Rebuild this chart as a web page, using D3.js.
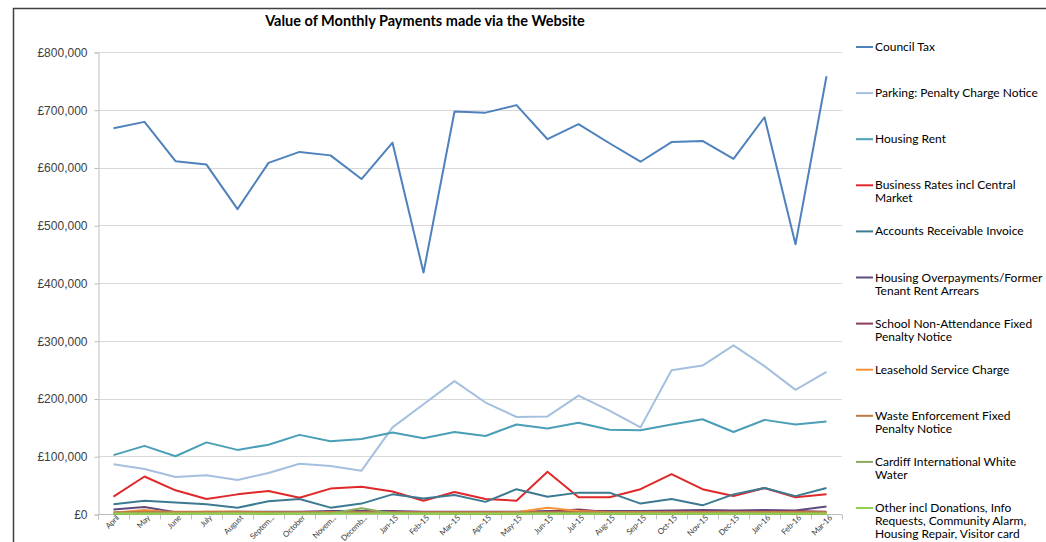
<!DOCTYPE html>
<html>
<head>
<meta charset="utf-8">
<script src="https://cdn.jsdelivr.net/npm/d3@7"></script>
<style>
  body { margin: 0; background: #fff; }
  svg { font-family: Lato, "Open Sans", sans-serif; }
</style>
</head>
<body>
<script>
//=== Data (values in £ thousands) ===
const months = ["April","May","June","July","August","Septem...","October","Novem...","Decemb...","Jan-15","Feb-15","Mar-15","Apr-15","May-15","Jun-15","Jul-15","Aug-15","Sep-15","Oct-15","Nov-15","Dec-15","Jan-16","Feb-16","Mar-16"]

const councilTax = [668,679,611,605,528,608,627,621,580,643,418,697,695,708,649,675,642,610,644,646,615,687,467,758]
const parking = [86,78,64,67,59,71,87,83,75,150,190,230,193,168,169,205,179,150,249,257,292,256,215,246]
const housingRent = [102,118,100,124,111,120,137,126,130,141,131,142,135,155,148,158,146,145,155,164,142,163,155,160]
const businessRates = [30,65,41,26,34,40,28,44,47,39,23,38,26,23,73,29,29,43,69,43,31,45,29,34]
const accountsReceivable = [17,23,20,17,11,22,26,11,18,34,27,33,21,43,30,37,37,18,26,15,34,45,31,45]
const overpayments = [8,12,3,3,4,4,4,5,5,5,4,4,4,4,5,5,5,5,6,7,6,7,6,13]
const schoolNonAttendance = [1,2,2,2,2,2,2,3,3,3,3,3,3,3,4,8,3,3,4,4,4,4,5,4]
const leasehold = [2,7,2,4,4,2,2,3,2,2,2,2,2,3,11,5,3,3,3,3,3,3,3,2]
const wasteEnforcement = [3,4,4,4,4,3,3,3,3,3,3,3,3,3,3,3,3,3,3,3,3,3,3,3]
const cardiffWhiteWater = [0,1,0,1,1,0,1,1,10,1,1,0,0,0,1,1,0,0,0,0,1,0,0,0]
const other = [1,1,1,1,1,1,1,1,1,1,1,1,1,1,1,1,1,1,1,1,1,1,1,1]

const yTicks = [0,100000,200000,300000,400000,500000,600000,700000,800000]

const series = [
  { name: ["Council Tax"], values: councilTax, color: "#4f81bd" },
  { name: ["Parking: Penalty Charge Notice"], values: parking, color: "#a5bfdf" },
  { name: ["Housing Rent"], values: housingRent, color: "#4a9fb6" },
  { name: ["Business Rates incl Central", "Market"], values: businessRates, color: "#e0282a" },
  { name: ["Accounts Receivable Invoice"], values: accountsReceivable, color: "#3c7a91" },
  { name: ["Housing Overpayments/Former", "Tenant Rent Arrears"], values: overpayments, color: "#5f4a7c" },
  { name: ["School Non-Attendance Fixed", "Penalty Notice"], values: schoolNonAttendance, color: "#8a3b60" },
  { name: ["Leasehold Service Charge"], values: leasehold, color: "#f7923a" },
  { name: ["Waste Enforcement Fixed", "Penalty Notice"], values: wasteEnforcement, color: "#c07a45" },
  { name: ["Cardiff International White", "Water"], values: cardiffWhiteWater, color: "#8fa860" },
  { name: ["Other incl Donations, Info", "Requests, Community Alarm,", "Housing Repair, Visitor card"], values: other, color: "#92d050" }
]

//=== Layout ===
const W = 1046, H = 542
const plot = { left: 98, right: 842, top: 52, bottom: 514 }

const svg = d3.select("body").append("svg")
  .attr("width", W)
  .attr("height", H)

// outer frame (top and left edges visible)
svg.append("path")
  .attr("d", "M13.5," + H + "V8.5H" + W)
  .attr("fill", "none")
  .attr("stroke", "#404040")
  .attr("stroke-width", 1.5)

svg.append("text")
  .attr("x", 425)
  .attr("y", 26)
  .attr("text-anchor", "middle")
  .attr("font-size", 14.5)
  .attr("font-weight", "bold")
  .attr("fill", "#000")
  .text("Value of Monthly Payments made via the Website")

const x = d3.scaleBand()
  .domain(months)
  .range([plot.left, plot.right])

const y = d3.scaleLinear()
  .domain([0, 800000])
  .range([plot.bottom, plot.top])

// gridlines
svg.append("g")
  .selectAll("line")
  .data(yTicks.slice(1))
  .enter()
  .append("line")
  .attr("x1", plot.left)
  .attr("x2", plot.right)
  .attr("y1", d => Math.round(y(d)) + 0.5)
  .attr("y2", d => Math.round(y(d)) + 0.5)
  .attr("stroke", "#d9d9d9")
  .attr("stroke-width", 1)

// Y axis
const yAxis = svg.append("g")
  .attr("transform", "translate(" + (plot.left + 0.5) + ",0.5)")
  .call(d3.axisLeft(y).tickValues(yTicks).tickSize(4).tickPadding(7)
    .tickFormat(d => "£" + d3.format(",")(d)))
yAxis.select(".domain").attr("stroke", "#bfbfbf")
yAxis.selectAll(".tick line").attr("stroke", "#bfbfbf")
yAxis.selectAll("text").attr("font-size", 12).attr("fill", "#404040")

// X axis with ticks on category boundaries
const xAxis = svg.append("g")
  .attr("transform", "translate(0," + (plot.bottom + 0.5) + ")")
xAxis.append("line")
  .attr("x1", plot.left)
  .attr("x2", plot.right)
  .attr("stroke", "#bfbfbf")
xAxis.selectAll(".bt")
  .data(d3.range(months.length + 1))
  .enter()
  .append("line")
  .attr("class", "bt")
  .attr("x1", i => Math.round(plot.left + i * x.step()) + 0.5)
  .attr("x2", i => Math.round(plot.left + i * x.step()) + 0.5)
  .attr("y2", 5)
  .attr("stroke", "#bfbfbf")
xAxis.selectAll(".lbl")
  .data(months)
  .enter()
  .append("text")
  .attr("class", "lbl")
  .attr("transform", d => "translate(" + (x(d) + x.bandwidth() / 2 + 4) + ",2) rotate(-45)")
  .attr("text-anchor", "end")
  .attr("dy", "0.35em")
  .attr("font-size", 8)
  .attr("letter-spacing", -0.25)
  .attr("fill", "#404040")
  .text(d => d)

// lines
const line = d3.line()
  .x((d, i) => x(months[i]) + x.bandwidth() / 2)
  .y(d => y(d * 1000))

svg.append("g")
  .selectAll("path")
  .data(series)
  .enter()
  .append("path")
  .attr("d", d => line(d.values))
  .attr("fill", "none")
  .attr("stroke", d => d.color)
  .attr("stroke-width", 2)
  .attr("stroke-linejoin", "round")

// legend
const legend = svg.append("g")
  .selectAll("g")
  .data(series)
  .enter()
  .append("g")
  .attr("transform", (d, i) => "translate(856," + (47 + i * 46.1) + ")")

legend.append("line")
  .attr("x2", 17)
  .attr("stroke", d => d.color)
  .attr("stroke-width", 2)

legend.append("text")
  .attr("x", 19)
  .attr("font-size", 12)
  .attr("fill", "#000")
  .selectAll("tspan")
  .data(d => d.name)
  .enter()
  .append("tspan")
  .attr("x", 19)
  .attr("y", (d, i) => 4 + i * 13)
  .text(d => d)
</script>
</body>
</html>
